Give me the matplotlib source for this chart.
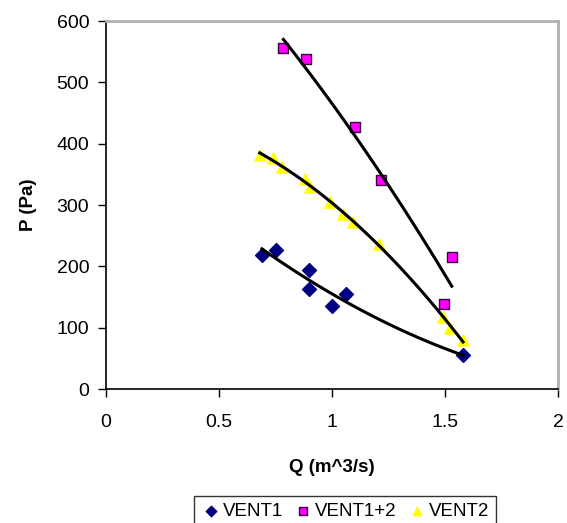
import numpy as np
import matplotlib
matplotlib.use("Agg")
import matplotlib.pyplot as plt

plt.rcParams['font.family'] = ['Liberation Sans', 'DejaVu Sans']

# Data
vent1_q = [0.69, 0.75, 0.90, 0.90, 1.00, 1.06, 1.58]
vent1_p = [219, 227, 194, 163, 136, 155, 55]

vent12_q = [0.785, 0.885, 1.10, 1.215, 1.53, 1.495]
vent12_p = [556, 538, 427, 340, 215, 138]

vent2_q = [0.68, 0.74, 0.777, 0.881, 0.903, 0.99, 1.05, 1.094, 1.21, 1.493, 1.522, 1.58]
vent2_p = [382, 376, 362, 342, 330, 305, 285, 273, 236, 118, 99, 80]

x_ticks = [0, 0.5, 1, 1.5, 2]
x_ticklabels = ['0', '0.5', '1', '1.5', '2']
y_ticks = [0, 100, 200, 300, 400, 500, 600]

fig = plt.figure(figsize=(5.67, 5.23), dpi=100)
ax = fig.add_axes([106/567, 1-389/523, (558-106)/567, (389-21)/523])

def trend(q, p):
    c = np.polyfit(q, p, 2)
    xs = np.linspace(min(q), max(q), 100)
    return xs, np.polyval(c, xs)

for q, p in [(vent1_q, vent1_p), (vent2_q, vent2_p), (vent12_q, vent12_p)]:
    xs, ys = trend(q, p)
    ax.plot(xs, ys, color='black', lw=2.2, zorder=3)

ax.scatter(vent1_q, vent1_p, marker='D', s=50, color='#000080', edgecolor='#000080', zorder=2, label='VENT1')
ax.scatter(vent12_q, vent12_p, marker='s', s=55, color='#FF00FF', edgecolor='#3a0040', linewidth=1, zorder=2, label='VENT1+2')
ax.scatter(vent2_q, vent2_p, marker='^', s=65, color='#FFFF00', edgecolor='#FFFF00', zorder=2, label='VENT2')

ax.set_xlim(0, 2)
ax.set_ylim(0, 600)
ax.set_xticks(x_ticks)
ax.set_xticklabels(x_ticklabels)
ax.set_yticks(y_ticks)
ax.tick_params(axis='both', direction='out', length=6, width=1, labelsize=14, colors='black', pad=6)
ax.tick_params(axis='x', pad=12)

for s in ['left', 'bottom']:
    ax.spines[s].set_color('black')
    ax.spines[s].set_linewidth(1.2)
for s in ['top', 'right']:
    ax.spines[s].set_color('#b0b0b0')
    ax.spines[s].set_linewidth(2)

ax.set_xlabel('Q (m^3/s)', fontsize=13.5, fontweight='bold', labelpad=20)
ax.set_ylabel('P (Pa)', fontsize=13.5, fontweight='bold', labelpad=14)

leg = fig.legend(loc='upper center', bbox_to_anchor=(345/567, 1-487/523), ncol=3,
                 fontsize=13.5, frameon=True, fancybox=False, edgecolor='black',
                 handletextpad=0.1, columnspacing=0.5, borderpad=0.35, handlelength=1.1,
                 markerscale=0.75)
leg.get_frame().set_linewidth(1)

fig.savefig('out.png', dpi=100)
